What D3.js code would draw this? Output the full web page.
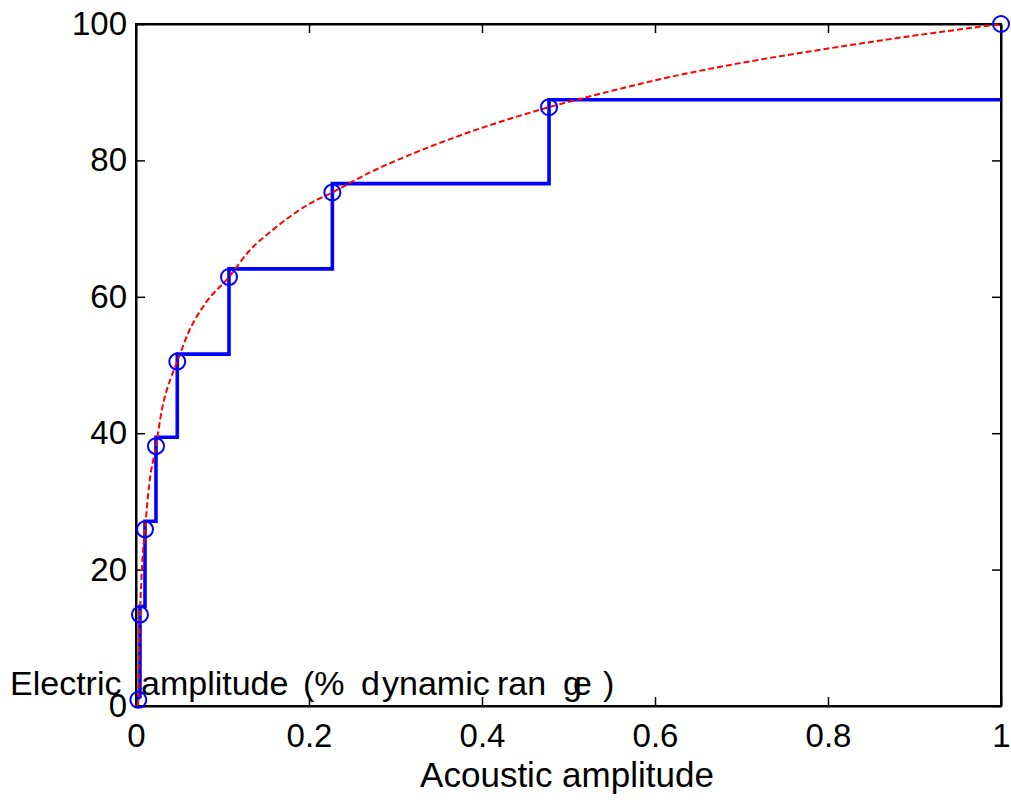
<!DOCTYPE html>
<html>
<head>
<meta charset="utf-8">
<script src="https://cdn.jsdelivr.net/npm/d3@7"></script>
<style>
  html, body { margin: 0; padding: 0; background: #fff; }
  text { font-family: "Liberation Sans", Arial, sans-serif; fill: #000; }
</style>
</head>
<body>
<svg id="chart" width="1011" height="803"></svg>
<script>
// ---- data ----
const xTicks = [0, 0.2, 0.4, 0.6, 0.8, 1];
const xTickLabels = ["0", "0.2", "0.4", "0.6", "0.8", "1"];
const yTicks = [0, 20, 40, 60, 80, 100];
const yTickLabels = ["0", "20", "40", "60", "80", "100"];

// quantised channel points (circles)
const markerX = [0.0027, 0.0046, 0.0104, 0.0231, 0.0477, 0.1075, 0.227, 0.4775, 1];
const markerY = [0.9, 13.4, 25.9, 38.1, 50.5, 62.9, 75.3, 87.8, 100];

// stair (blue) levels at each step position
const stairX = [0.0027, 0.0046, 0.0104, 0.0231, 0.0477, 0.1075, 0.227, 0.4775, 1];
const stairLevel = [1.4, 14.6, 27.1, 39.4, 51.6, 64.1, 76.6, 88.9, 88.9];

// continuous compression curve (red dashed)
const curveX = [0.0019, 0.0027, 0.0035, 0.0046, 0.006, 0.0075, 0.0104, 0.015, 0.0231, 0.03, 0.04, 0.0477, 0.06, 0.08, 0.1075, 0.13, 0.16, 0.2, 0.227, 0.27, 0.32, 0.38, 0.4775, 0.55, 0.62, 0.7, 0.8, 0.9, 1];
const curveY = [0.0, 0.9, 8.5, 13.4, 17.9, 21.6, 25.9, 32.2, 38.1, 43.5, 48.0, 50.5, 54.6, 59.0, 62.9, 66.6, 70.0, 73.6, 75.3, 78.2, 81.0, 83.9, 87.8, 90.2, 92.3, 94.3, 96.4, 98.3, 100];

const xLabel = "Acoustic amplitude";
// y label pieces as rendered (horizontal, with the odd spacing of the original)
const yLabelParts = ["Electric", "amplitude", "(%", "d", "ynamic", "ran", "g", "e", ")"];

// ---- drawing ----
const svg = d3.select("#chart");
const x = d3.scaleLinear().domain([0, 1]).range([136, 1001]);
const y = d3.scaleLinear().domain([0, 100]).range([706, 24]);
const FS = 33;
const LFS = 34;

// y label (drawn horizontally near the bottom-left, as in the reference)
const yLabelX = [10, 141, 303, 361, 382, 497, 563, 573, 603];
const yl = svg.append("g");
yLabelParts.forEach((t, i) => {
  yl.append("text").attr("x", yLabelX[i]).attr("y", 695)
    .attr("font-size", LFS).text(t);
});

// axes
const tickLen = 9;
const gx = svg.append("g").attr("transform", `translate(0,${y(0)})`)
  .call(d3.axisBottom(x).tickValues(xTicks).tickFormat((d, i) => xTickLabels[i])
    .tickSizeInner(-tickLen).tickSizeOuter(0).tickPadding(18));
const gxTop = svg.append("g").attr("transform", `translate(0,${y(100)})`)
  .call(d3.axisTop(x).tickValues(xTicks).tickFormat("")
    .tickSizeInner(-tickLen).tickSizeOuter(0));
const gy = svg.append("g").attr("transform", `translate(${x(0)},0)`)
  .call(d3.axisLeft(y).tickValues(yTicks).tickFormat((d, i) => yTickLabels[i])
    .tickSizeInner(-tickLen).tickSizeOuter(0).tickPadding(9));
const gyRight = svg.append("g").attr("transform", `translate(${x(1)},0)`)
  .call(d3.axisRight(y).tickValues(yTicks).tickFormat("")
    .tickSizeInner(-tickLen).tickSizeOuter(0));

[gx, gxTop, gy, gyRight].forEach(g => {
  g.select(".domain").attr("stroke", "#000").attr("stroke-width", 2);
  g.selectAll(".tick line").attr("stroke", "#000").attr("stroke-width", 1.5);
  g.selectAll(".tick text").attr("font-size", FS)
    .attr("font-family", '"Liberation Sans", Arial, sans-serif').attr("fill", "#000");
});
// close box corners
svg.append("rect").attr("x", x(0)).attr("y", y(100))
  .attr("width", x(1) - x(0)).attr("height", y(0) - y(100))
  .attr("fill", "none").attr("stroke", "#000").attr("stroke-width", 2);

// x label
svg.append("text").attr("x", 567).attr("y", 787)
  .attr("text-anchor", "middle").attr("font-size", 35).text(xLabel);

// blue stairs
const stairPts = [[stairX[0], markerY[0]]];
for (let i = 0; i < stairX.length; i++) {
  if (i > 0) stairPts.push([stairX[i], stairLevel[i - 1]]);
  stairPts.push([stairX[i], stairLevel[i]]);
}
svg.append("path")
  .attr("d", d3.line().x(d => x(d[0])).y(d => y(d[1]))(stairPts))
  .attr("fill", "none").attr("stroke", "#0000ff").attr("stroke-width", 3.6)
  .attr("stroke-linejoin", "miter");

// red dashed curve
svg.append("path")
  .attr("d", d3.line().x((d, i) => x(curveX[i])).y((d, i) => y(curveY[i])).curve(d3.curveMonotoneX)(curveX))
  .attr("fill", "none").attr("stroke", "#ff0000").attr("stroke-width", 2)
  .attr("stroke-dasharray", "6,3");

// circles
svg.append("g").selectAll("circle").data(markerX).join("circle")
  .attr("cx", d => x(d)).attr("cy", (d, i) => y(markerY[i])).attr("r", 8)
  .attr("fill", "none").attr("stroke", "#0000ff").attr("stroke-width", 2);
</script>
</body>
</html>
